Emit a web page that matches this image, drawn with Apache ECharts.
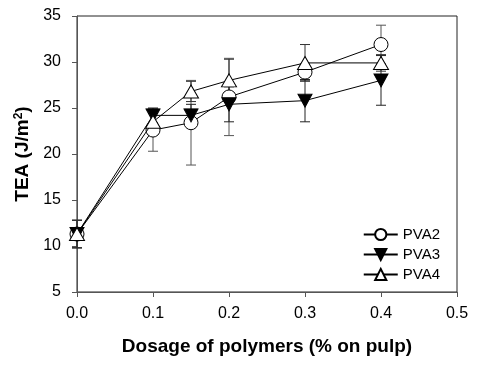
<!DOCTYPE html>
<html>
<head>
<meta charset="utf-8">
<script src="https://cdn.jsdelivr.net/npm/echarts@6/dist/echarts.min.js"></script>
<style>html,body{margin:0;padding:0;background:#fff;}#c{width:477px;height:365px;}</style>
</head>
<body>
<div id="c"></div>
<script>
var dosage = [0.0, 0.1, 0.15, 0.2, 0.3, 0.4];
var pva2 = [11.3, 22.6, 23.4, 26.2, 28.9, 31.9];
var pva2Err = [1.5, 2.3, 4.6, 4.2, 0.9, 2.1];
var pva3 = [11.3, 24.2, 24.2, 25.4, 25.8, 28.0];
var pva3Err = [1.5, 0.8, 1.2, 1.9, 2.3, 2.7];
var pva4 = [11.3, 23.5, 26.8, 28.0, 29.9, 29.9];
var pva4Err = [1.5, 0.9, 1.1, 2.3, 2.0, 0.9];
var xTicks = [0.0, 0.1, 0.2, 0.3, 0.4, 0.5];
var yTicks = [5, 10, 15, 20, 25, 30, 35];

function pts(vals) { return dosage.map(function (d, i) { return [d, vals[i]]; }); }
function errs(vals, e) { return dosage.map(function (d, i) { return [d, vals[i] - e[i], vals[i] + e[i]]; }); }

function errSeries(data, color) {
  return {
    type: 'custom', silent: true, z: 1,
    data: data,
    renderItem: function (params, api) {
      var x = api.value(0);
      var lo = api.coord([x, api.value(1)]);
      var hi = api.coord([x, api.value(2)]);
      var w = 5;
      var st = { stroke: color, lineWidth: 1 };
      return {
        type: 'group',
        children: [
          { type: 'line', shape: { x1: lo[0], y1: lo[1], x2: hi[0], y2: hi[1] }, style: st },
          { type: 'line', shape: { x1: lo[0] - w, y1: lo[1], x2: lo[0] + w, y2: lo[1] }, style: st },
          { type: 'line', shape: { x1: hi[0] - w, y1: hi[1], x2: hi[0] + w, y2: hi[1] }, style: st }
        ]
      };
    }
  };
}

var font = 'Liberation Sans, Arial, sans-serif';
var chart = echarts.init(document.getElementById('c'));
chart.setOption({
  animation: false,
  backgroundColor: '#fff',
  grid: { left: 77, right: 20, top: 16, bottom: 73, show: true, borderColor: '#222', borderWidth: 1 },
  xAxis: {
    type: 'value', min: 0, max: 0.5, interval: 0.1,
    name: 'Dosage of polymers (% on pulp)', nameLocation: 'middle', nameGap: 45,
    nameTextStyle: { fontFamily: font, fontSize: 19, fontWeight: 'bold', color: '#000' },
    axisLine: { lineStyle: { color: '#555', width: 1 } },
    axisTick: { show: true, inside: false, length: 5, lineStyle: { color: '#555' } },
    axisLabel: { margin: 14, fontFamily: font, fontSize: 16, color: '#000',
      formatter: function (v) { return v.toFixed(1); } },
    splitLine: { show: false }
  },
  yAxis: {
    type: 'value', min: 5, max: 35, interval: 5,
    name: 'TEA (J/m{sup|2})', nameLocation: 'middle', nameGap: 41,
    nameTextStyle: { fontFamily: font, fontSize: 19, fontWeight: 'bold', color: '#000',
      rich: { sup: { fontFamily: font, fontSize: 12, fontWeight: 'bold', color: '#000', verticalAlign: 'bottom', padding: [0, 0, 9, 0] } } },
    axisLine: { show: true, lineStyle: { color: '#555', width: 1 } },
    axisTick: { show: true, inside: false, length: 5, lineStyle: { color: '#555' } },
    axisLabel: { margin: 16, fontFamily: font, fontSize: 16, color: '#000' },
    splitLine: { show: false }
  },
  legend: {
    orient: 'vertical', right: 32, top: 222, itemWidth: 34, itemHeight: 14, itemGap: 5,
    textStyle: { fontFamily: font, fontSize: 15, color: '#000' },
    data: ['PVA2', 'PVA3', 'PVA4']
  },
  series: [
    errSeries(errs(pva2, pva2Err), '#555'),
    errSeries(errs(pva3, pva3Err), '#222'),
    errSeries(errs(pva4, pva4Err), '#333'),
    { name: 'PVA2', type: 'line', data: pts(pva2), symbol: 'circle', symbolSize: 14, z: 3,
      lineStyle: { color: '#000', width: 1 },
      itemStyle: { color: '#fff', borderColor: '#000', borderWidth: 1 } },
    { name: 'PVA3', type: 'line', data: pts(pva3), symbol: 'triangle', symbolRotate: 180, symbolSize: [14, 13], z: 4,
      lineStyle: { color: '#000', width: 1 },
      itemStyle: { color: '#000', borderColor: '#000', borderWidth: 1 } },
    { name: 'PVA4', type: 'line', data: pts(pva4), symbol: 'triangle', symbolSize: [15, 13], z: 5,
      lineStyle: { color: '#000', width: 1 },
      itemStyle: { color: '#fff', borderColor: '#000', borderWidth: 1 } }
  ]
});
</script>
</body>
</html>
